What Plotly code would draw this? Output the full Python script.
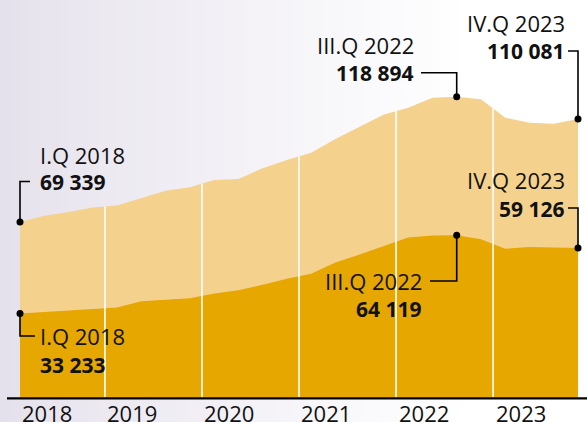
import plotly.graph_objects as go

# ---- data ----
years = ["2018", "2019", "2020", "2021", "2022", "2023"]
quarter_index = list(range(24))  # I.Q 2018 ... IV.Q 2023
upper = [69339, 71800, 73300, 75100, 75900, 78850, 81740, 83080, 85970, 86360,
         90590, 93870, 96720, 102170, 106920, 111860, 114550, 118500, 118894,
         117870, 110590, 108620, 108220, 110081]
lower = [33233, 33760, 34360, 34960, 35560, 38030, 38550, 39230, 41150, 42350,
         44550, 46940, 48940, 53340, 56530, 59730, 63200, 64000, 64119, 62520,
         58800, 59450, 59300, 59126]
callouts = [  # (index, series, period label, value label)
    (0, "upper", "I.Q 2018", "69 339"),
    (0, "lower", "I.Q 2018", "33 233"),
    (18, "upper", "III.Q 2022", "118 894"),
    (18, "lower", "III.Q 2022", "64 119"),
    (23, "upper", "IV.Q 2023", "110 081"),
    (23, "lower", "IV.Q 2023", "59 126"),
]

# ---- geometry helpers (pixel layout -> axis coords) ----
W, H = 587, 422
X0PX, DXPX = 20.0, 24.26
Y0PX, SCALE = 397.5, 0.00253
XR = [-X0PX / DXPX, 23 + (W - 578) / DXPX]
YR = [-(H - Y0PX) / SCALE, Y0PX / SCALE]


def X(px):
    return (px - X0PX) / DXPX


def Y(py):
    return (Y0PX - py) / SCALE


UPPER_C = "#F5D18E"
LOWER_C = "#E6A700"
FONT = "Open Sans"

fig = go.Figure()

fig.add_trace(go.Scatter(x=quarter_index, y=upper, mode="lines", fill="tozeroy",
                         fillcolor=UPPER_C, line=dict(width=0, color=UPPER_C),
                         hoverinfo="skip"))
fig.add_trace(go.Scatter(x=quarter_index, y=lower, mode="lines", fill="tozeroy",
                         fillcolor=LOWER_C, line=dict(width=0, color=LOWER_C),
                         hoverinfo="skip"))

# white year separators, from baseline up to the upper area's edge
for k in range(1, len(years)):
    i = 4 * k - 1
    xs = i + 0.5
    ytop = (upper[i] + upper[i + 1]) / 2
    fig.add_trace(go.Scatter(x=[xs, xs], y=[0, ytop], mode="lines",
                             line=dict(color="white", width=1.6), hoverinfo="skip"))

# callout connectors
series = {"upper": upper, "lower": lower}
conn = {
    (0, "upper"): (181.5, 30),
    (0, "lower"): (336.0, 35),
    (18, "upper"): (72.7, 421),
    (18, "lower"): (281.0, 430),
    (23, "upper"): (51.0, 568),
    (23, "lower"): (208.0, 568),
}
for idx, s, _, _ in callouts:
    v = series[s][idx]
    ely, endx = conn[(idx, s)]
    fig.add_trace(go.Scatter(x=[idx, idx, X(endx)], y=[v, Y(ely), Y(ely)],
                             mode="lines", line=dict(color="black", width=1.6),
                             hoverinfo="skip"))
    fig.add_trace(go.Scatter(x=[idx], y=[v], mode="markers",
                             marker=dict(color="black", size=7), hoverinfo="skip"))

# callout texts: (period center y, value center y, x px, anchor)
text_pos = {
    (0, "upper"): (155.0, 182.5, 39, "left"),
    (0, "lower"): (335.8, 364.7, 39, "left"),
    (18, "upper"): (45.0, 72.7, 415, "right"),
    (18, "lower"): (281.3, 309.2, 423, "right"),
    (23, "upper"): (22.8, 51.0, 566, "right"),
    (23, "lower"): (180.0, 209.0, 566, "right"),
}
annotations = []
for idx, s, per, val in callouts:
    yp, yv, xp, anc = text_pos[(idx, s)]
    for txt, yy, sz in ((per, yp, 22), ("<b>" + val + "</b>", yv, 21)):
        annotations.append(dict(x=xp / W, y=1 - yy / H, xref="paper", yref="paper",
                                text=txt, showarrow=False, xanchor=anc,
                                yanchor="middle", borderpad=0,
                                font=dict(family=FONT, size=sz, color="#111111")))

# year labels
for k, yr in enumerate(years):
    xi = 0.05 if k == 0 else 4 * k - 0.5 + 0.06
    annotations.append(dict(x=xi, y=1 - 412.5 / H, xref="x", yref="paper", text=yr,
                            showarrow=False, xanchor="left", yanchor="middle",
                            borderpad=0,
                            font=dict(family=FONT, size=22, color="#111111")))

# background gradient (lavender on the left fading to white) + axis line
shapes = []
left = (229, 225, 236)
N = 48
for k in range(N):
    t = (k + 0.5) / N
    f = min(1.0, t ** 0.9)
    c = tuple(round(left[j] + (255 - left[j]) * f) for j in range(3))
    shapes.append(dict(type="rect", xref="paper", yref="paper",
                       x0=k * 470 / N / W, x1=(k + 1) * 470 / N / W + 0.002,
                       y0=0, y1=1, line=dict(width=0),
                       fillcolor="rgb(%d,%d,%d)" % c, layer="below"))
shapes.append(dict(type="line", xref="paper", yref="y", x0=7 / W, x1=1,
                   y0=Y(398.3), y1=Y(398.3), line=dict(color="black", width=2.2)))

fig.update_layout(
    width=W, height=H, margin=dict(l=0, r=0, t=0, b=0),
    paper_bgcolor="white", plot_bgcolor="rgba(0,0,0,0)",
    showlegend=False,
    xaxis=dict(range=XR, visible=False, fixedrange=True),
    yaxis=dict(range=YR, visible=False, fixedrange=True),
    annotations=annotations, shapes=shapes,
)

fig.write_html(
    "out.html",
    config={"displayModeBar": False},
    post_script="document.body.style.margin='0';document.body.style.overflow='hidden';",
)
